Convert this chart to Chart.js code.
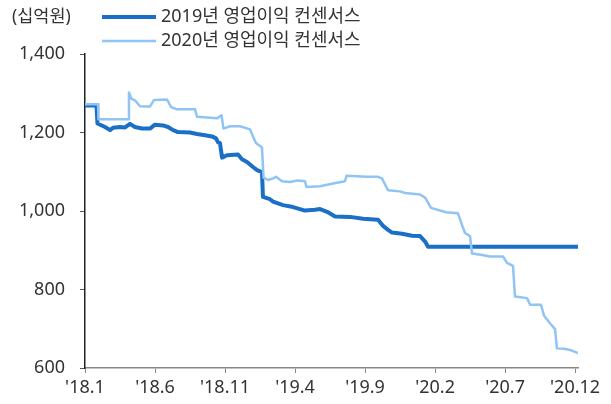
<!DOCTYPE html>
<html>
<head>
<meta charset="utf-8">
<script src="https://cdn.jsdelivr.net/npm/chart.js@4.4.1/dist/chart.umd.min.js"></script>
<style>
  html, body { margin: 0; padding: 0; background: #ffffff; }
  #wrap { width: 611px; height: 404px; position: relative; }
</style>
</head>
<body>
<div id="wrap"><canvas id="c" width="611" height="404"></canvas></div>
<script>
// ---- data (x = months since Jan 2018) ----
const seriesLabels = ["2019년 영업이익 컨센서스", "2020년 영업이익 컨센서스"];
const unitLabel = "(십억원)";
const xTickLabels = ["'18.1", "'18.6", "'18.11", "'19.4", "'19.9", "'20.2", "'20.7", "'20.12"];
const xTickValues = [0, 5, 10, 15, 20, 25, 30, 35];
const yTickValues = [600, 800, 1000, 1200, 1400];

const months2019 = [0,0.82,0.89,1.43,1.79,2.0,2.5,2.86,3.21,3.57,4.07,4.64,5.0,5.57,5.93,6.29,6.64,7.5,8.0,8.57,9.07,9.36,9.5,9.64,9.79,10.14,10.93,11.21,11.57,12.0,12.29,12.64,12.71,13.21,13.43,14.14,14.86,15.71,16.43,16.79,17.29,17.86,18.93,19.86,20.93,21.29,21.64,21.93,22.64,23.36,23.93,24.29,24.5,35.21];
const values2019 = [1269,1269,1223,1214,1206,1212,1214,1213,1222,1214,1210,1210,1220,1218,1214,1206,1201,1200,1196,1193,1190,1185,1175,1173,1136,1142,1144,1132,1125,1112,1104,1099,1036,1030,1024,1015,1010,1001,1003,1005,998,986,985,980,978,962,952,945,942,937,936,922,909,909];

const months2020 = [0,0.93,0.96,3.11,3.14,3.32,3.57,3.93,4.64,4.93,5.86,6.14,6.57,7.86,8.0,9.43,9.75,9.89,10.36,11.07,11.79,12.0,12.21,12.64,12.75,13.07,13.43,13.64,14.07,14.64,15.21,15.71,15.82,16.79,17.71,18.57,18.68,20.14,20.93,21.21,21.64,22.5,22.86,23.93,24.29,24.71,25.79,26.64,26.93,27.14,27.5,27.64,28.36,28.93,29.86,30.14,30.57,30.71,31.57,31.79,32.57,32.79,33.21,33.57,33.71,34.21,34.64,35.21];
const values2020 = [1272,1272,1234,1234,1302,1286,1282,1267,1266,1283,1284,1265,1259,1259,1240,1236,1244,1210,1216,1216,1208,1190,1173,1162,1085,1079,1083,1087,1076,1074,1078,1076,1061,1063,1070,1076,1090,1087,1087,1083,1053,1050,1046,1042,1034,1008,997,994,964,944,936,892,888,884,884,868,860,782,778,761,761,733,714,699,650,649,646,638];

// ---- styling ----
const DARK = '#1a6fc7';
const LIGHT = '#90c4f4';
const TEXT = '#333333';
const FONT = "'Noto Sans', 'Noto Sans CJK KR', sans-serif";

const toPoints = (xs, ys) => xs.map((x, i) => ({ x: x, y: ys[i] }));

const legendPlugin = {
  id: 'customLegend',
  afterDraw(chart) {
    const ctx = chart.ctx;
    ctx.save();
    ctx.fillStyle = TEXT;
    ctx.textBaseline = 'middle';
    ctx.textAlign = 'left';
    ctx.font = "17.5px " + FONT;
    ctx.fillText(unitLabel, 12, 17);
    ctx.font = "18px " + FONT;
    const rows = [17, 41];
    chart.data.datasets.forEach((ds, i) => {
      const y = rows[i];
      ctx.strokeStyle = ds.borderColor;
      ctx.lineWidth = ds.borderWidth;
      ctx.lineCap = 'butt';
      ctx.beginPath();
      ctx.moveTo(102, y);
      ctx.lineTo(156, y);
      ctx.stroke();
      ctx.fillStyle = TEXT;
      ctx.fillText(ds.label, 161, y);
    });
    ctx.restore();
  }
};

new Chart(document.getElementById('c'), {
  type: 'line',
  data: {
    datasets: [
      { label: seriesLabels[0], data: toPoints(months2019, values2019), borderColor: DARK, borderWidth: 4, pointRadius: 0, tension: 0, borderJoinStyle: 'round', order: 1 },
      { label: seriesLabels[1], data: toPoints(months2020, values2020), borderColor: LIGHT, borderWidth: 2.5, pointRadius: 0, tension: 0, borderJoinStyle: 'round', order: 0 }
    ]
  },
  options: {
    responsive: false,
    animation: false,
    layout: { padding: { top: 54, right: 33, left: 0, bottom: 0 } },
    plugins: { legend: { display: false }, tooltip: { enabled: false } },
    scales: {
      x: {
        type: 'linear',
        min: 0,
        max: 35.21,
        afterBuildTicks(scale) { scale.ticks = xTickValues.map(v => ({ value: v })); },
        afterFit(scale) { scale.height = 36; },
        grid: { drawOnChartArea: false, drawTicks: true, tickLength: 5, color: '#888888' },
        border: { display: true, color: '#888888', width: 1.5 },
        ticks: {
          padding: 4,
          color: TEXT,
          font: { family: FONT, size: 18 },
          maxRotation: 0,
          autoSkip: false,
          callback: (v) => { const i = xTickValues.indexOf(v); return i >= 0 ? xTickLabels[i] : ''; }
        }
      },
      y: {
        min: 600,
        max: 1400,
        afterBuildTicks(scale) { scale.ticks = yTickValues.map(v => ({ value: v })); },
        afterFit(scale) { scale.width = 85; },
        grid: { drawOnChartArea: false, drawTicks: true, tickLength: 5, color: '#555555' },
        border: { display: true, color: '#222222', width: 1.5 },
        ticks: {
          padding: 15,
          color: TEXT,
          font: { family: FONT, size: 18 },
          callback: (v) => v.toLocaleString('en-US')
        }
      }
    }
  },
  plugins: [legendPlugin]
});
</script>
</body>
</html>
